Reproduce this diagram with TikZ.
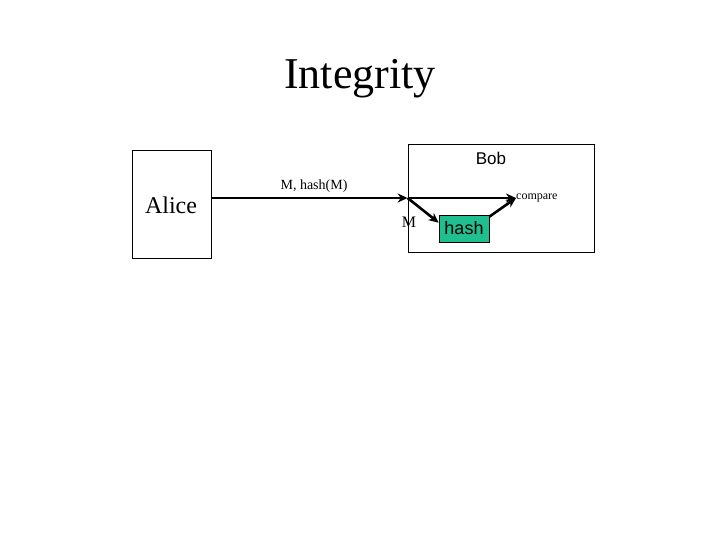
\documentclass[tikz,border=0pt]{standalone}
\usepackage{fontspec}
\setmainfont{Liberation Serif}
\newfontfamily\arialfont{Liberation Sans}
\usetikzlibrary{arrows.meta}
\definecolor{hashgreen}{HTML}{1FBF8F}
\tikzset{
  party/.style={draw=black, line width=0.8pt, minimum width=#1, inner sep=0pt},
  msg/.style={line width=2.6pt, -{Stealth[length=10pt,width=9pt]}},
  serif/.style={font=\fontsize{#1}{#1}\selectfont, inner sep=0pt},
  sans/.style={font=\arialfont\fontsize{#1}{#1}\selectfont, inner sep=0pt},
}
\begin{document}
\begin{tikzpicture}[x=1pt,y=-1pt]
\useasboundingbox (0,0) rectangle (720,540);
\node[serif=44] (title) at (360,79) {Integrity};
\node[party=79pt, minimum height=108pt] (alice) at (171.5,204) {};
\node[serif=24] (alicelbl) at (171,205) {Alice};
\node[party=186pt, minimum height=108pt] (bob) at (501,198) {};
\node[sans=17] (boblbl) at (491,158) {Bob};
\coordinate (j) at (bob.west |- 0,198);
\node[serif=14] (mlabel) at (314,186) {M, hash(M)};
\node[serif=12, anchor=west] (compare) at (516,198) {compare};
\node[draw=black, line width=0.6pt, fill=hashgreen, minimum width=50pt, minimum height=27pt, inner sep=0pt, sans=18] (hash) at (464,228.5) {hash};
\node[serif=16] (mlbl) at (409,222) {M};
\draw[msg] (alice.east |- j) -- (j);
\draw[msg] (j) -- (compare.west);
\draw[msg] (j) -- ([yshift=-8pt]hash.north west);
\draw[msg] ([yshift=-2pt]hash.north east) -- (compare.west);
\end{tikzpicture}
\end{document}
